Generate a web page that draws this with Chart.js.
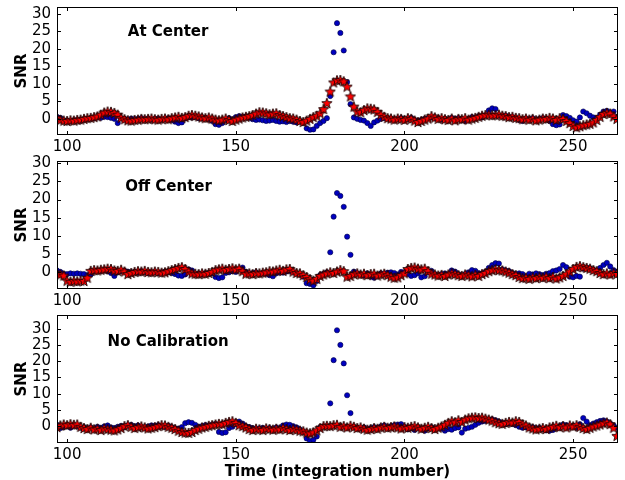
<!DOCTYPE html>
<html>
<head>
<meta charset="utf-8">
<script src="https://cdn.jsdelivr.net/npm/chart.js@4.4.1/dist/chart.umd.min.js"></script>
<style>
  html, body { margin: 0; padding: 0; background: #fff; }
  #wrap { position: relative; width: 625px; height: 480px; overflow: hidden; }
  canvas { position: absolute; left: 0; }
</style>
</head>
<body>
<div id="wrap">
  <canvas id="panelCenter" width="625" height="155" style="top:0px"></canvas>
  <canvas id="panelOff" width="625" height="155" style="top:154px"></canvas>
  <canvas id="panelNoCal" width="625" height="172" style="top:308px"></canvas>
</div>
<script>
// integration numbers (x)
const times = [
  97, 98, 99, 100, 101, 102, 103, 104, 105, 106,
  107, 108, 109, 110, 111, 112, 113, 114, 115, 116,
  117, 118, 119, 120, 121, 122, 123, 124, 125, 126,
  127, 128, 129, 130, 131, 132, 133, 134, 135, 136,
  137, 138, 139, 140, 141, 142, 143, 144, 145, 146,
  147, 148, 149, 150, 151, 152, 153, 154, 155, 156,
  157, 158, 159, 160, 161, 162, 163, 164, 165, 166,
  167, 168, 169, 170, 171, 172, 173, 174, 175, 176,
  177, 178, 179, 180, 181, 182, 183, 184, 185, 186,
  187, 188, 189, 190, 191, 192, 193, 194, 195, 196,
  197, 198, 199, 200, 201, 202, 203, 204, 205, 206,
  207, 208, 209, 210, 211, 212, 213, 214, 215, 216,
  217, 218, 219, 220, 221, 222, 223, 224, 225, 226,
  227, 228, 229, 230, 231, 232, 233, 234, 235, 236,
  237, 238, 239, 240, 241, 242, 243, 244, 245, 246,
  247, 248, 249, 250, 251, 252, 253, 254, 255, 256,
  257, 258, 259, 260, 261, 262, 263
];

// At Center
const centerStars = [
  0.3, -0.3, -0.5, -0.6, -0.4, -0.5, -0.3, -0.2, 0.0, 0.2,
  0.3, 0.5, 0.7, 1.2, 1.8, 2.1, 2.0, 1.7, 1.2, 0.3,
  -0.1, -0.4, -0.5, -0.3, -0.2, 0.0, -0.1, 0.0, 0.1, -0.1,
  -0.2, 0.0, 0.1, -0.1, 0.2, 0.4, 0.6, 0.3, 0.5, 0.9,
  1.1, 0.9, 0.7, 0.4, 0.2, 0.4, 0.1, -0.2, -0.4, -0.2,
  0.1, -0.3, -0.6, -0.2, 0.1, 0.4, 0.6, 0.8, 1.1, 1.5,
  1.9, 1.8, 1.6, 1.3, 1.5, 1.6, 1.1, 0.8, 0.5, 0.2,
  0.1, -0.2, -0.6, -0.9, -0.5, 0.0, 0.5, 0.9, 1.6, 2.8,
  4.5, 7.8, 10.4, 11.0, 11.1, 10.7, 9.2, 6.4, 3.5, 2.1,
  1.9, 2.5, 3.0, 2.9, 2.7, 2.0, 1.2, 0.6, 0.2, 0.1,
  -0.2, 0.1, 0.0, -0.3, 0.2, 0.0, -0.5, -0.9, -0.6, -0.2,
  0.1, 0.8, 0.4, 0.0, 0.2, -0.1, -0.3, 0.1, -0.4, 0.0,
  -0.1, 0.2, -0.2, 0.1, 0.3, 0.6, 0.9, 1.1, 1.2, 1.0,
  1.1, 1.2, 0.9, 0.8, 0.5, 0.6, 0.3, 0.2, -0.1, 0.1,
  -0.2, 0.0, -0.4, -0.2, 0.1, 0.0, 0.3, 0.1, -0.3, 0.2,
  0.0, -0.6, -1.2, -2.0, -2.4, -2.1, -1.8, -1.6, -1.4, -1.0,
  -0.3, 0.6, 1.4, 1.7, 1.5, 0.7, 0.0
];
const centerDots = [
  0.6, 0.3, -0.4, -0.5, -0.6, -0.4, -0.3, -0.5, -0.2, 0.0,
  0.1, 0.2, 0.4, 0.3, 0.6, 0.5, 0.3, 0.0, -1.2, 0.2,
  0.0, -0.2, 0.1, -0.1, 0.0, 0.2, -0.1, 0.1, -0.2, 0.0,
  0.1, -0.2, 0.0, 0.2, -0.3, -0.8, -1.2, -1.0, 0.1, 0.5,
  0.4, 0.6, 0.2, 0.1, 0.3, -0.1, -0.6, -1.5, -1.7, -1.2,
  -0.3, 0.2, -0.4, 0.5, 0.8, 0.6, 0.7, 0.3, -0.1, -0.3,
  -0.2, -0.4, -0.6, -0.5, -0.3, -0.6, -0.8, -0.7, -0.9, -0.6,
  -0.8, -1.0, -0.7, -1.1, -2.7, -3.1, -3.0, -2.0, -1.2, -0.6,
  0.2, 6.5, 19.0, 27.3, 24.5, 19.5, 10.5, 4.2, 0.4, 0.0,
  -0.3, -0.5, -1.2, -2.0, -1.0, -0.5, 0.0, 0.2, 0.2, 0.0,
  -0.2, 0.0, 0.2, -0.3, 0.0, 0.3, -0.4, -0.6, -0.3, 0.0,
  0.2, 0.4, 0.1, 0.2, -0.2, 0.0, -0.4, 0.3, -0.1, 0.2,
  -0.3, -0.6, 0.0, 0.5, 0.2, 0.8, 0.4, 1.0, 2.4, 3.0,
  2.8, 1.0, 0.7, 0.9, 0.4, 0.5, 0.2, -0.3, -0.6, 0.1,
  -0.1, 0.2, -0.3, 0.0, 0.2, -0.1, -0.6, -1.5, -1.8, -1.6,
  1.1, 0.8, 0.3, -0.4, -0.8, 0.4, 2.1, 1.6, 0.9, 0.4,
  0.2, 1.2, 2.1, 2.3, 1.8, 2.1, 0.6
];

// Off Center
const offStars = [
  -0.2, -0.6, -0.9, -2.3, -2.6, -2.4, -2.5, -2.3, -2.4, -1.5,
  0.4, 0.6, 0.5, 0.7, 0.8, 1.0, 0.9, 0.5, 0.4, 0.7,
  0.2, -0.5, -0.2, 0.1, 0.3, 0.2, 0.4, 0.1, 0.0, 0.2,
  0.1, -0.1, 0.0, 0.3, 0.6, 0.9, 1.2, 1.4, 0.9, 0.2,
  -0.3, -0.4, -0.5, -0.3, -0.4, -0.2, 0.1, 0.6, 0.8, 1.0,
  0.7, 0.9, 1.1, 0.8, 1.0, 0.3, -0.4, -0.3, -0.5, -0.2,
  -0.3, -0.1, 0.0, 0.3, 0.2, 0.5, 0.7, 0.4, 0.8, 0.9,
  0.2, -0.2, -0.3, -0.8, -1.3, -1.9, -2.3, -1.8, -1.0, -0.6,
  -0.3, 0.0, -0.2, 0.2, 0.6, 0.3, -1.2, -1.0, -0.5, -0.3,
  -0.6, -0.4, -0.8, -0.5, -0.4, -0.9, -0.6, -0.4, -0.8, -1.2,
  -1.5, -1.4, -0.8, -0.3, 0.9, 1.2, 1.3, 1.0, 0.8, 1.0,
  0.3, -0.4, -0.6, -0.9, -0.7, -1.0, -0.6, -0.3, -0.5, -0.8,
  -1.0, -0.6, -0.8, -1.1, -0.7, -1.0, -0.5, -0.2, 0.3, 0.6,
  0.8, 0.6, 0.5, 0.2, -0.1, -0.5, -0.8, -1.3, -1.6, -1.5,
  -1.8, -1.4, -1.6, -1.3, -1.5, -1.2, -1.6, -1.3, -1.7, -1.4,
  -1.0, -0.5, 0.2, 0.9, 1.5, 1.7, 1.4, 1.2, 1.0, 0.6,
  0.3, -0.2, -0.5, -0.3, -0.6, -0.2, -0.4
];
const offDots = [
  0.5, 0.1, -0.4, -0.5, -0.3, -0.4, -0.3, -0.4, -0.5, -0.8,
  -0.6, 0.3, 0.5, 0.4, 0.6, 0.3, -0.2, -1.0, 0.0, 0.3,
  0.4, 0.2, 0.0, 0.1, -0.1, 0.3, 0.1, -0.2, 0.0, 0.1,
  -0.2, 0.0, 0.2, 0.1, -0.2, -0.5, -0.9, -1.0, -0.6, 0.8,
  0.5, -0.5, -0.3, -0.6, -0.2, -0.4, -0.3, -1.3, -1.6, -1.4,
  -0.2, 0.0, 0.3, 0.1, 0.9, 1.3, 0.1, -0.3, -0.2, 0.0,
  -0.5, -0.2, -0.4, -0.8, -1.1, -0.3, 0.0, -0.1, 0.2, 0.4,
  0.0, -0.3, -0.6, -1.2, -3.0, -3.2, -3.6, -2.4, -0.8, -0.4,
  0.0, 5.5, 15.3, 21.8, 21.0, 18.0, 9.8, 4.8, 0.2, -0.3,
  -0.6, -0.9, -0.3, -1.2, -1.5, -0.7, -0.3, -0.5, -0.1, 0.0,
  -0.2, -0.6, 0.1, 0.0, -0.5, -1.0, -0.8, -0.3, -1.4, -1.1,
  0.0, 0.4, -0.5, -0.8, -0.5, -0.3, -0.8, 0.5, 0.2, -0.5,
  -1.1, -0.5, 0.0, 0.6, 0.4, -0.2, -0.4, 0.1, 1.2, 2.0,
  2.5, 2.4, 0.8, 0.5, 0.3, -0.2, -0.5, -0.3, -0.5, -1.2,
  -0.4, -0.6, -0.3, -0.5, -0.8, -0.4, -0.2, 0.3, 0.5, 0.9,
  2.0, 1.4, -1.2, -1.4, -1.0, -1.2, 1.0, 1.3, 1.1, 0.7,
  0.4, 1.2, 2.0, 2.6, 1.6, 0.6, 0.1
];

// No Calibration
const noCalStars = [
  -0.3, 0.2, 0.5, 0.3, 0.6, 0.4, 0.5, -0.2, -0.6, -0.9,
  -0.5, -1.0, -0.8, -1.2, -0.7, -0.9, -1.1, -1.3, -1.0, -0.6,
  0.0, 0.3, -0.2, -0.6, -0.3, -0.1, -0.4, -0.7, -0.5, -0.3,
  0.0, 0.3, 0.2, -0.2, -0.5, -0.9, -1.4, -1.8, -2.0, -2.1,
  -1.8, -1.2, -0.8, -0.4, -0.2, 0.1, 0.3, 0.5, 0.7, 0.6,
  1.0, 1.3, 1.5, 1.0, 0.3, 0.0, -0.4, -0.9, -1.2, -0.8,
  -1.0, -1.2, -0.7, -0.9, -1.1, -0.8, -1.0, -0.6, -0.9, -1.2,
  -0.9, -1.1, -1.4, -1.6, -2.0, -2.2, -1.9, -1.3, -0.6, 0.0,
  0.1, 0.0, 0.3, 0.4, -0.2, 0.0, -0.4, 0.1, -0.2, -0.6,
  -0.4, -0.8, -1.1, -0.9, -0.6, -0.8, -0.4, -0.2, -0.5, -0.3,
  -0.1, -0.4, -0.7, -0.3, -0.5, -0.2, 0.0, -0.4, -0.8, -0.5,
  -0.2, -0.6, -0.9, -0.5, -0.1, 0.4, 1.0, 1.5, 1.2, 1.8,
  1.3, 2.0, 2.4, 2.6, 2.7, 2.5, 2.6, 2.3, 2.0, 1.7,
  1.2, 0.9, 0.7, 1.0, 1.3, 1.1, 1.5, 1.3, 0.6, 0.2,
  -0.4, -0.7, -1.0, -0.8, -0.6, -0.9, -0.4, -0.2, 0.1, -0.3,
  0.0, -0.4, 0.2, -0.1, 0.3, -0.2, -0.6, -0.9, -0.5, -0.1,
  0.2, 0.5, 0.9, 1.1, 0.6, -0.5, -3.0
];
const noCalDots = [
  0.4, -0.6, -0.3, 0.1, -0.5, 0.2, 0.0, -0.5, -0.3, -0.7,
  -0.4, -0.8, -0.2, -0.5, -0.1, 0.2, -0.4, -0.6, -0.2, 0.1,
  -0.3, 0.2, 0.4, -0.1, 0.2, -0.2, -0.5, -0.1, 0.2, 0.1,
  0.3, 0.0, -0.2, 0.1, -0.3, -0.7, -0.8, -0.3, 0.9, 1.2,
  1.0, 0.4, -0.2, 0.0, 0.3, 0.2, 0.5, 0.7, -1.8, -2.1,
  -1.9, -0.6, -0.2, 0.6, 1.4, 0.8, 0.0, -0.3, -0.6, -0.9,
  -0.7, -0.5, -0.9, -0.6, -1.0, -0.4, -0.7, 0.2, 0.5, 0.4,
  0.0, -0.4, -1.0, -1.8, -3.8, -4.6, -4.2, -3.2, -0.4, -0.1,
  0.0, 7.0, 20.3, 29.5, 25.0, 19.3, 9.5, 4.0, -0.3, -0.5,
  -0.7, -0.4, -1.0, -0.6, -0.3, -0.6, -0.1, 0.2, -0.3, 0.0,
  0.3, 0.5, 0.6, -0.2, -1.0, -0.6, -1.2, -0.4, -0.9, -1.4,
  -0.7, -0.3, -1.0, -0.5, -0.8, -1.4, -0.9, -1.1, -0.6, -0.4,
  -2.0, -0.8, -0.5, -0.2, 0.4, 1.0, 1.4, 1.6, 1.9, 2.1,
  1.8, 1.4, 1.0, 0.6, 0.8, 0.7, 0.3, -0.2, -0.5, -0.4,
  -0.6, -0.3, -0.7, -0.5, -0.9, -1.3, -1.4, -1.2, -0.6, 0.0,
  0.5, 0.3, -0.2, 0.1, -0.5, 0.6, 2.5, 1.4, 0.3, 0.8,
  1.2, 1.6, 1.8, 1.4, 0.8, 0.2, -0.5
];

// axis ticks and limits
const timeTicks = [100, 150, 200, 250];
const snrTicks = [0, 5, 10, 15, 20, 25, 30];
const timeRange = [97, 263.3];
const centerRange = [-4.6, 31.9];
const offRange = [-4.6, 30.6];
const noCalRange = [-5.2, 34.2];

Chart.defaults.font.family = '"DejaVu Sans", sans-serif';
Chart.defaults.color = '#000';

// filled red star with dark edge, like matplotlib 'r*'
function makeStar(size) {
  const c = document.createElement('canvas');
  c.width = size; c.height = size;
  const g = c.getContext('2d');
  const cx = size / 2, cy = size / 2 + 0.4;
  const outer = size / 2 - 0.6, inner = outer * 0.42;
  g.beginPath();
  for (let i = 0; i < 10; i++) {
    const a = -Math.PI / 2 + i * Math.PI / 5;
    const r = i % 2 ? inner : outer;
    g.lineTo(cx + r * Math.cos(a), cy + r * Math.sin(a));
  }
  g.closePath();
  g.fillStyle = '#ff0000';
  g.fill();
  g.lineWidth = 0.9;
  g.strokeStyle = '#1a0000';
  g.stroke();
  return c;
}
const starImg = makeStar(12);

// box, inward ticks and the panel label
const framePlugin = {
  id: 'frame',
  afterDatasetsDraw(chart, args, opts) {
    const { ctx, chartArea: a, scales: { x, y } } = chart;
    ctx.save();
    ctx.strokeStyle = '#000';
    ctx.lineWidth = 1;
    ctx.strokeRect(a.left + 0.5, a.top + 0.5, a.right - a.left - 1, a.bottom - a.top - 1);
    ctx.beginPath();
    x.ticks.forEach(t => {
      const px = Math.round(x.getPixelForValue(t.value)) + 0.5;
      ctx.moveTo(px, a.bottom); ctx.lineTo(px, a.bottom - 4);
      ctx.moveTo(px, a.top); ctx.lineTo(px, a.top + 4);
    });
    y.ticks.forEach(t => {
      const py = Math.round(y.getPixelForValue(t.value)) + 0.5;
      ctx.moveTo(a.left, py); ctx.lineTo(a.left + 4, py);
      ctx.moveTo(a.right, py); ctx.lineTo(a.right - 4, py);
    });
    ctx.stroke();
    ctx.font = 'bold 15px "DejaVu Sans"';
    ctx.fillStyle = '#000';
    ctx.textBaseline = 'middle';
    ctx.textAlign = 'left';
    ctx.fillText(opts.text, x.getPixelForValue(opts.at[0]), y.getPixelForValue(opts.at[1]));
    ctx.restore();
  }
};

function toPoints(ys) {
  return ys.map((v, i) => ({ x: times[i], y: v }));
}

function noPad(s) {
  s.paddingTop = 0; s.paddingBottom = 0;
  s.paddingLeft = 0; s.paddingRight = 0;
}

function makePanel(id, stars, dots, yRange, label, labelAt, xTitle) {
  return new Chart(document.getElementById(id), {
    type: 'scatter',
    data: {
      datasets: [
        {
          data: toPoints(stars),
          pointStyle: starImg,
          pointRadius: 5
        },
        {
          data: toPoints(dots),
          pointStyle: 'circle',
          pointRadius: 2.6,
          backgroundColor: '#0000c0',
          borderColor: '#000040',
          borderWidth: 0.6
        }
      ]
    },
    options: {
      responsive: false,
      devicePixelRatio: 1,
      animation: false,
      events: [],
      layout: { padding: { top: 7, right: 7, left: 0, bottom: 0 } },
      plugins: {
        legend: { display: false },
        tooltip: { enabled: false },
        frame: { text: label, at: labelAt }
      },
      scales: {
        x: {
          type: 'linear',
          min: timeRange[0],
          max: timeRange[1],
          grid: { display: false, drawTicks: false },
          border: { display: false },
          ticks: { font: { size: 15 }, padding: 3, maxRotation: 0, autoSkip: false },
          afterBuildTicks: s => { s.ticks = timeTicks.map(v => ({ value: v })); },
          afterFit: s => { s.height = xTitle ? 37 : 20; noPad(s); },
          title: {
            display: !!xTitle,
            text: xTitle || '',
            font: { size: 15, weight: 'bold' },
            padding: { top: 0, bottom: -1 }
          }
        },
        y: {
          min: yRange[0],
          max: yRange[1],
          grid: { display: false, drawTicks: false },
          border: { display: false },
          ticks: { font: { size: 15 }, padding: 6, autoSkip: false },
          afterBuildTicks: s => { s.ticks = snrTicks.map(v => ({ value: v })); },
          afterFit: s => { s.width = 57; noPad(s); },
          title: {
            display: true,
            text: 'SNR',
            font: { size: 15, weight: 'bold' },
            padding: { top: 13, bottom: 0 }
          }
        }
      }
    },
    plugins: [framePlugin]
  });
}

makePanel('panelCenter', centerStars, centerDots, centerRange, 'At Center', [118, 24.8]);
makePanel('panelOff', offStars, offDots, offRange, 'Off Center', [117.2, 23.5]);
makePanel('panelNoCal', noCalStars, noCalDots, noCalRange, 'No Calibration', [112, 26.0], 'Time (integration number)');
</script>
</body>
</html>
